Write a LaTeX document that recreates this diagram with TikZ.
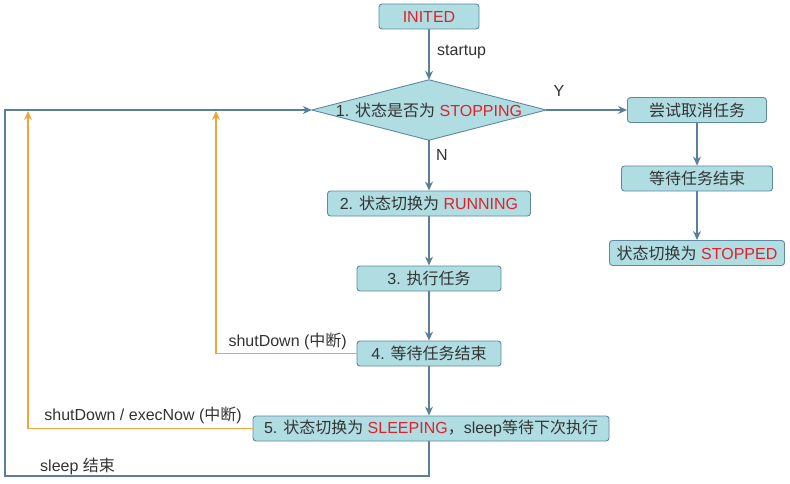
\documentclass[tikz,border=0pt]{standalone}
\usepackage{fontspec}
\setmainfont{Liberation Sans}
\newfontfamily\cjk{Noto Sans CJK SC}
\usetikzlibrary{arrows.meta}
\definecolor{boxfill}{HTML}{B0DDE2}
\definecolor{boxdraw}{HTML}{5E8AA0}
\definecolor{lineblue}{HTML}{5C7F99}
\definecolor{orangeline}{HTML}{F2A33A}
\definecolor{txt}{HTML}{333333}
\definecolor{redtxt}{HTML}{E0202A}
\newcommand{\zh}[1]{{\cjk #1}}
\newcommand{\rd}[1]{\textcolor{redtxt}{#1}}
\begin{document}
\begin{tikzpicture}[x=1pt,y=-1pt,
  box/.style={draw=boxdraw, fill=boxfill, rounded corners=3pt, line width=0.9pt,
    minimum height=25pt, inner sep=0pt, font=\fontsize{16}{18}\selectfont, text=txt},
  lbl/.style={font=\fontsize{16}{18}\selectfont, text=txt, inner sep=0pt},
  arr/.style={draw=lineblue, line width=1.1pt, -{Stealth[length=9pt,width=8pt]}},
  orarr/.style={draw=orangeline, line width=1.1pt, -{Stealth[length=9pt,width=8pt]}}]
\useasboundingbox[fill=white] (0,0) rectangle (790,484);
% nodes
\node[box, minimum width=100pt] (init) at (429,16.5) {\rd{INITED}};
\node[minimum width=234pt, minimum height=60pt, inner sep=0pt] (d) at (429,110) {};
\fill[boxfill] (d.north) -- (d.east) -- (d.south) -- (d.west) -- cycle;
\draw[boxdraw, line width=0.9pt, line join=round] (d.north) -- (d.east) -- (d.south) -- (d.west) -- cycle;
\node[font=\fontsize{16}{18}\selectfont, text=txt] (dt) at (429,110) {1. \zh{状态是否为} \rd{STOPPING}};
\node[box, minimum width=139pt] (try) at (697,110) {\zh{尝试取消任务}};
\node[box, minimum width=151pt] (waitr) at (697,178.5) {\zh{等待任务结束}};
\node[box, minimum width=175pt] (stopped) at (697,253) {\zh{状态切换为} \rd{STOPPED}};
\node[box, minimum width=203pt] (n2) at (429,203.5) {2. \zh{状态切换为} \rd{RUNNING}};
\node[box, minimum width=144pt] (n3) at (429,278.5) {3. \zh{执行任务}};
\node[box, minimum width=144pt] (n4) at (429,353.5) {4. \zh{等待任务结束}};
\node[box, minimum width=356pt] (n5) at (431,428.5) {5. \zh{状态切换为} \rd{SLEEPING}\zh{，}sleep\zh{等待下次执行}};
% coordinates
\coordinate (o1) at (216,111);
\coordinate (o2) at (28,111);
\coordinate (lp) at (5,476);
% connectors
\draw[arr] (init) -- (d.north);
\draw[arr] (d.east) -- (try.west);
\draw[arr] (d.south) -- (n2.north);
\draw[arr] (try) -- (waitr);
\draw[arr] (waitr) -- (stopped);
\draw[arr] (n2) -- (n3);
\draw[arr] (n3) -- (n4);
\draw[arr] (n4.south) -- (n4.south |- n5.north);
\draw[orarr] (n4.west) -| (o1);
\draw[orarr] (n5.west) -| (o2);
\draw[arr] (n5.south -| n4.south) |- (lp) |- (d.west);
% labels
\node[lbl, anchor=west] (ls) at (437,52) {startup};
\node[lbl] (ly) at (559,91) {Y};
\node[lbl, anchor=west] (ln) at (436,155) {N};
\node[lbl, anchor=east] (l4) at (347,341) {shutDown (\zh{中断})};
\node[lbl, anchor=east] (l5) at (242,415) {shutDown / execNow (\zh{中断})};
\node[lbl, anchor=west] (lsl) at (40,466) {sleep \zh{结束}};
\end{tikzpicture}
\end{document}
